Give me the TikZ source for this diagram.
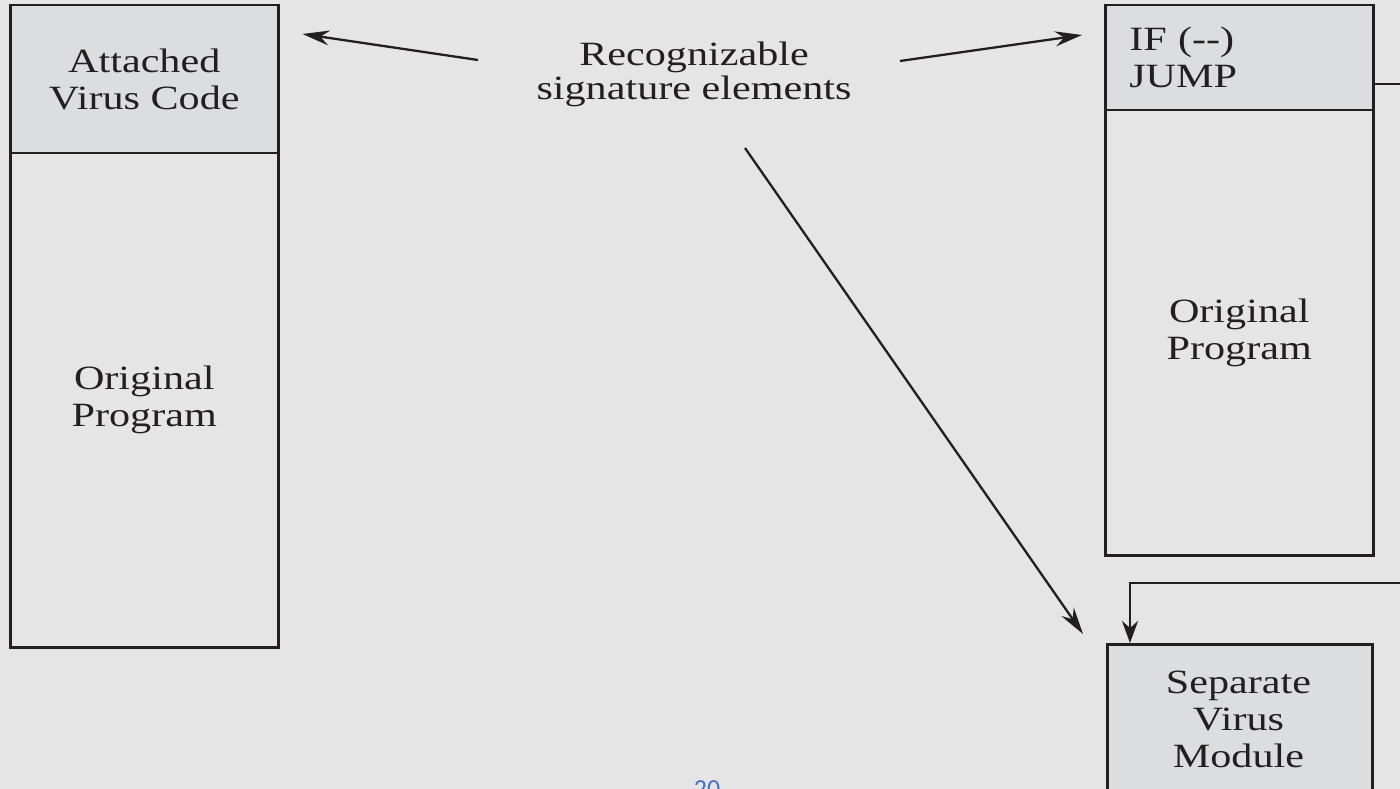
\documentclass[tikz,border=0pt]{standalone}
\usepackage{fontspec}
\setmainfont{Liberation Serif}
\newfontfamily\figfont[FakeStretch=1.24]{Liberation Serif}
\newfontfamily\pagefont{Carlito}
\usetikzlibrary{arrows.meta,calc}
\definecolor{paper}{HTML}{E5E5E5}
\definecolor{boxgray}{HTML}{DCDDE0}
\definecolor{ink}{HTML}{231F20}
\definecolor{pageblue}{HTML}{4472C4}
\begin{document}
\begin{tikzpicture}[x=1pt,y=-1pt,
  txt/.style={text=ink, font=\figfont\fontsize{34}{37}\selectfont, align=center},
  box/.style={txt, draw=ink, line width=2.5pt, inner sep=0pt, anchor=north west},
  wire/.style={draw=ink, line width=2.3pt},
  arr/.style={wire, -{Stealth[length=27pt,width=15pt,inset=9pt]}},
  arrd/.style={wire, -{Stealth[length=22pt,width=16pt,inset=7pt]}}]
  % page
  \fill[paper] (0,0) rectangle (1400,789);
  \useasboundingbox (0,0) rectangle (1400,789);

  % program with attached virus code
  \node[box, fill=boxgray, minimum width=268, minimum height=148] (avc) at (9,4) {Attached\\Virus Code};
  \node[box, minimum width=268, minimum height=494] (op1) at (9,152) {Original\\Program};

  % program with a jump to a separate virus module
  \node[box, fill=boxgray, align=left, text width=220, inner xsep=24, minimum height=105] (ifj) at (1104,4) {IF (--)\\JUMP};
  \node[box, minimum width=268, minimum height=445] (op2) at (1104,109) {Original\\Program};
  \node[box, fill=boxgray, minimum width=265, minimum height=200] (svm) at (1106,643) {};
  \node[txt] (svmlbl) at (1238.5,719) {Separate\\Virus\\Module};

  % signature label and its pointers
  \node[txt, font=\figfont\fontsize{34}{34}\selectfont] (sig) at (694,74) {Recognizable\\signature elements};
  \coordinate (s1) at (478,60);
  \coordinate (s2) at (900,61);
  \coordinate (s3) at (745,148);
  \coordinate (t1) at ($(avc.north east)+(23,30)$);
  \coordinate (t2) at ($(ifj.north west)+(-22,31)$);
  \coordinate (t3) at ($(svm.north west)+(-23,-9)$);
  \draw[arr] (s1) -- (t1);
  \draw[arr] (s2) -- (t2);
  \draw[arr] (s3) -- (t3);

  % jump path (runs off the right edge and back)
  \draw[arrd] (ifj.east |- 0,84) -- (1415,84) -- (1415,583) -- (1130,583) -- ($(svm.north west)+(24,0)$);

  % page number
  \node[text=pageblue, font=\pagefont\fontsize{26}{30}\selectfont, anchor=base] (pg) at (707,797) {20};
\end{tikzpicture}
\end{document}
